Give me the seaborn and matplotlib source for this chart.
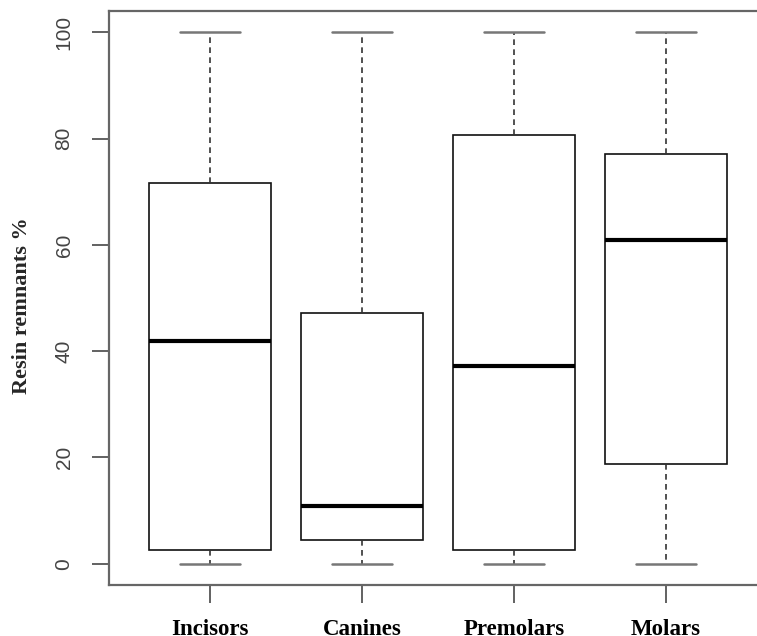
import numpy as np
import pandas as pd
import matplotlib
matplotlib.use("Agg")
import matplotlib.pyplot as plt
import seaborn as sns

# Five-number summaries (min, Q1, median, Q3, max)
categories = ["Incisors", "Canines", "Premolars", "Molars"]
incisors = [0, 2.5, 42.0, 71.7, 100]
canines = [0, 4.4, 10.9, 47.1, 100]
premolars = [0, 2.6, 37.2, 80.7, 100]
molars = [0, 18.8, 60.9, 77.1, 100]
y_ticks = [0, 20, 40, 60, 80, 100]
y_label = "Resin remnants %"

df = pd.DataFrame({
    "tooth": np.repeat(categories, 5),
    "value": incisors + canines + premolars + molars,
})

sns.set_style("white")
plt.rcParams["font.family"] = ["Liberation Sans", "DejaVu Sans"]

fig = plt.figure(figsize=(7.57, 6.36), dpi=100)
ax = fig.add_axes([109 / 757, 1 - 585 / 636, 658 / 757, 574 / 636])

sns.boxplot(
    data=df, x="tooth", y="value", order=categories, ax=ax,
    whis=(0, 100), width=0.8, color="white", saturation=1,
    linecolor="black", linewidth=1.2,
    boxprops=dict(edgecolor="#111111", linewidth=1.2),
    medianprops=dict(color="black", linewidth=3.0),
    whiskerprops=dict(color="#333333", linewidth=1.2, linestyle=(0, (3.4, 2.6))),
    capprops=dict(color="#777777", linewidth=1.8),
    showfliers=False,
)

ax.set_xlim(-0.664, 3.664)
ax.set_ylim(-4, 104)
ax.set_yticks(y_ticks)
ax.set_yticklabels([str(t) for t in y_ticks], rotation=90, va="center",
                   fontsize=15, color="#444444")
ax.set_xticks(range(len(categories)))
ax.set_xticklabels(categories, fontsize=16.5, fontweight="bold",
                   family=["Liberation Serif", "DejaVu Serif"], color="black")

ax.tick_params(axis="y", length=12, width=1.3, color="#555555", pad=13.5, left=True)
ax.tick_params(axis="x", length=13, width=1.3, color="#555555", pad=11.5, bottom=True)

for side in ["left", "bottom", "top", "right"]:
    ax.spines[side].set_visible(True)
    ax.spines[side].set_color("#666666")
    ax.spines[side].set_linewidth(1.6)

ax.set_xlabel("")
ax.set_ylabel(y_label, fontsize=16, fontweight="bold",
              family=["Liberation Serif", "DejaVu Serif"], va="center")
ax.yaxis.set_label_coords(-0.132, 0.486)

fig.savefig("out.png", dpi=100)
